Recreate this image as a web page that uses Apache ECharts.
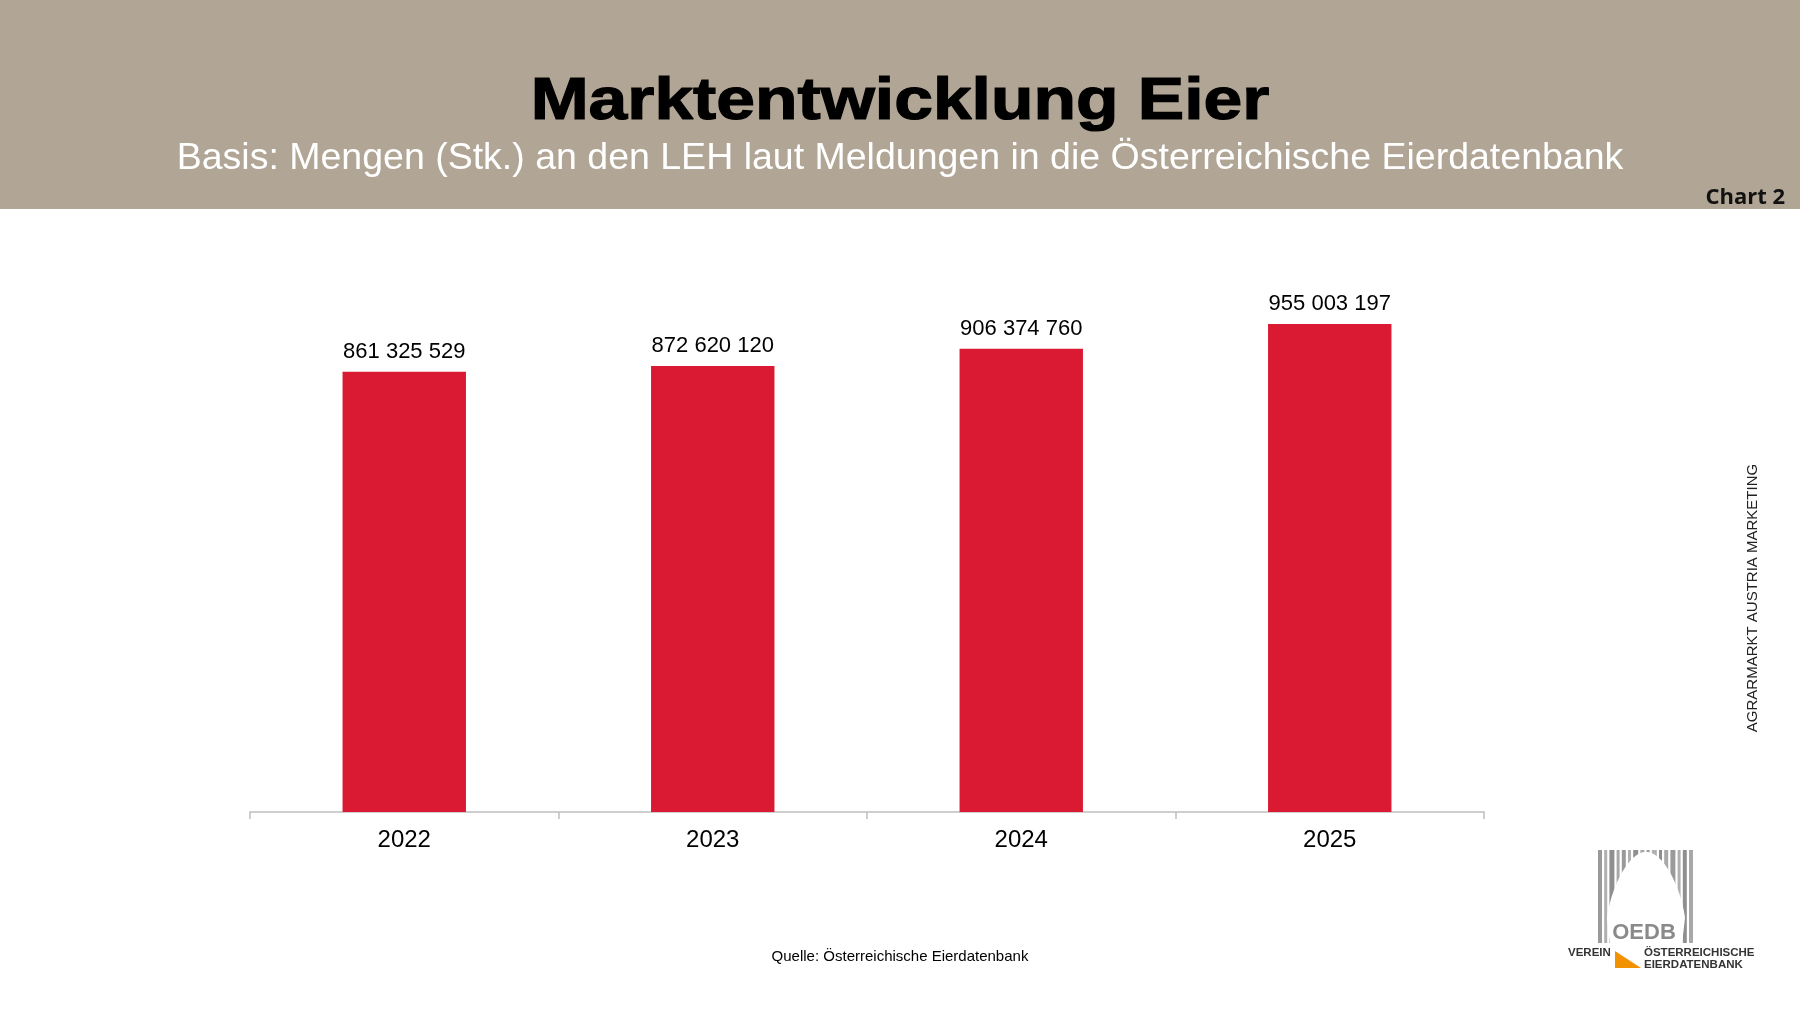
<!DOCTYPE html>
<html>
<head>
<meta charset="utf-8">
<script src="https://cdn.jsdelivr.net/npm/echarts@6/dist/echarts.min.js"></script>
<style>
html,body{margin:0;padding:0;background:#fff;}
#chart{width:1800px;height:1012px;}
</style>
</head>
<body>
<div id="chart"></div>
<script>
const years = ['2022', '2023', '2024', '2025'];
const volumes = [861325529, 872620120, 906374760, 955003197];
const titleText = 'Marktentwicklung Eier';
const subtitleText = 'Basis: Mengen (Stk.) an den LEH laut Meldungen in die Österreichische Eierdatenbank';
const sourceText = 'Quelle: Österreichische Eierdatenbank';
const sideText = 'AGRARMARKT AUSTRIA MARKETING';

function fmt(v) {
  return String(v).replace(/\B(?=(\d{3})+(?!\d))/g, ' ');
}

// decorative logo geometry (egg silhouette over barcode stripes)
function eggPoints(cx, cy, rx, ryTop, yBottom) {
  const pts = [];
  for (let i = 0; i <= 60; i++) {
    const t = -Math.PI / 2 + i / 60 * Math.PI;
    const c = Math.cos(t);
    pts.push([cx + rx * Math.sin(t) * (1 - 0.22 * c), cy - ryTop * c]);
  }
  pts.push([cx + rx - 3, yBottom]);
  pts.push([cx - rx + 3, yBottom]);
  return pts;
}
const stripes = [];
const stripeW = [4, 3, 5, 3, 4, 3, 5, 4, 3, 5, 3, 4, 5, 3, 4, 4];
const stripeC = ['#9a9a9a', '#b0b0b0', '#8f8f8f', '#a8a8a8'];
let sx = 1598;
for (let i = 0; i < stripeW.length; i++) {
  stripes.push({ type: 'rect', shape: { x: sx, y: 850, width: stripeW[i], height: 93 }, style: { fill: stripeC[i % 4] } });
  sx += stripeW[i] + 2.2;
}

const chart = echarts.init(document.getElementById('chart'));
chart.setOption({
  backgroundColor: '#ffffff',
  animation: false,
  grid: { left: 250, right: 316, top: 301, bottom: 200 },
  xAxis: {
    type: 'category',
    data: years,
    axisLine: { show: true, lineStyle: { color: '#bfbfbf', width: 1.5 } },
    axisTick: { show: true, inside: false, length: 7, interval: 0, lineStyle: { color: '#bfbfbf', width: 1.5 } },
    axisLabel: { color: '#000', fontSize: 24, fontFamily: 'Liberation Sans, Arial, sans-serif', margin: 16 }
  },
  yAxis: { type: 'value', min: 0, max: 1000000000, show: false, splitLine: { show: false } },
  series: [{
    type: 'bar',
    data: volumes,
    barWidth: '40%',
    itemStyle: { color: '#d91a32' },
    label: {
      show: true, position: 'top', distance: 9,
      color: '#000', fontSize: 22, fontFamily: 'Liberation Sans, Arial, sans-serif',
      formatter: p => fmt(p.value)
    }
  }],
  graphic: [
    { type: 'rect', z: -1, shape: { x: 0, y: 0, width: 1800, height: 209 }, style: { fill: '#b1a595' } },
    { type: 'text', x: 900, y: 102, scaleX: 1.16, originX: 0, originY: 0,
      style: { text: titleText, fill: '#000', stroke: '#000', lineWidth: 1.2, font: 'bold 60px "Liberation Sans", Arial, sans-serif', align: 'center', verticalAlign: 'middle' } },
    { type: 'text', x: 900, y: 159,
      style: { text: subtitleText, fill: '#ffffff', font: '37.5px "Liberation Sans", Arial, sans-serif', align: 'center', verticalAlign: 'middle' } },
    { type: 'text', x: 1785, y: 198,
      style: { text: 'Chart 2', fill: '#111', font: 'bold 22px "Open Sans", sans-serif', align: 'right', verticalAlign: 'middle' } },
    { type: 'text', x: 1753, y: 598, rotation: Math.PI / 2,
      style: { text: sideText, fill: '#222', font: '15px "Liberation Sans", Arial, sans-serif', align: 'center', verticalAlign: 'middle' } },
    { type: 'text', x: 900, y: 957,
      style: { text: sourceText, fill: '#000', font: '15px "Liberation Sans", Arial, sans-serif', align: 'center', verticalAlign: 'middle' } },
    { type: 'group', children: stripes.concat([
      { type: 'polygon', shape: { points: eggPoints(1646, 918, 39, 66, 944) }, style: { fill: '#ffffff' } },
      { type: 'text', x: 1644, y: 933, style: { text: 'OEDB', fill: '#8a8a8a', font: 'bold 22px "Liberation Sans Narrow", "Liberation Sans", sans-serif', align: 'center', verticalAlign: 'middle' } },
      { type: 'polygon', shape: { points: [[1615, 951], [1615, 968], [1641, 968]] }, style: { fill: '#f39200' } },
      { type: 'text', x: 1568, y: 953, style: { text: 'VEREIN', fill: '#333', font: 'bold 11.5px "Liberation Sans Narrow", "Liberation Sans", sans-serif', align: 'left', verticalAlign: 'middle' } },
      { type: 'text', x: 1644, y: 953, style: { text: 'ÖSTERREICHISCHE', fill: '#333', font: 'bold 11.5px "Liberation Sans Narrow", "Liberation Sans", sans-serif', align: 'left', verticalAlign: 'middle' } },
      { type: 'text', x: 1644, y: 965, style: { text: 'EIERDATENBANK', fill: '#333', font: 'bold 11.5px "Liberation Sans Narrow", "Liberation Sans", sans-serif', align: 'left', verticalAlign: 'middle' } }
    ]) }
  ]
});
</script>
</body>
</html>
